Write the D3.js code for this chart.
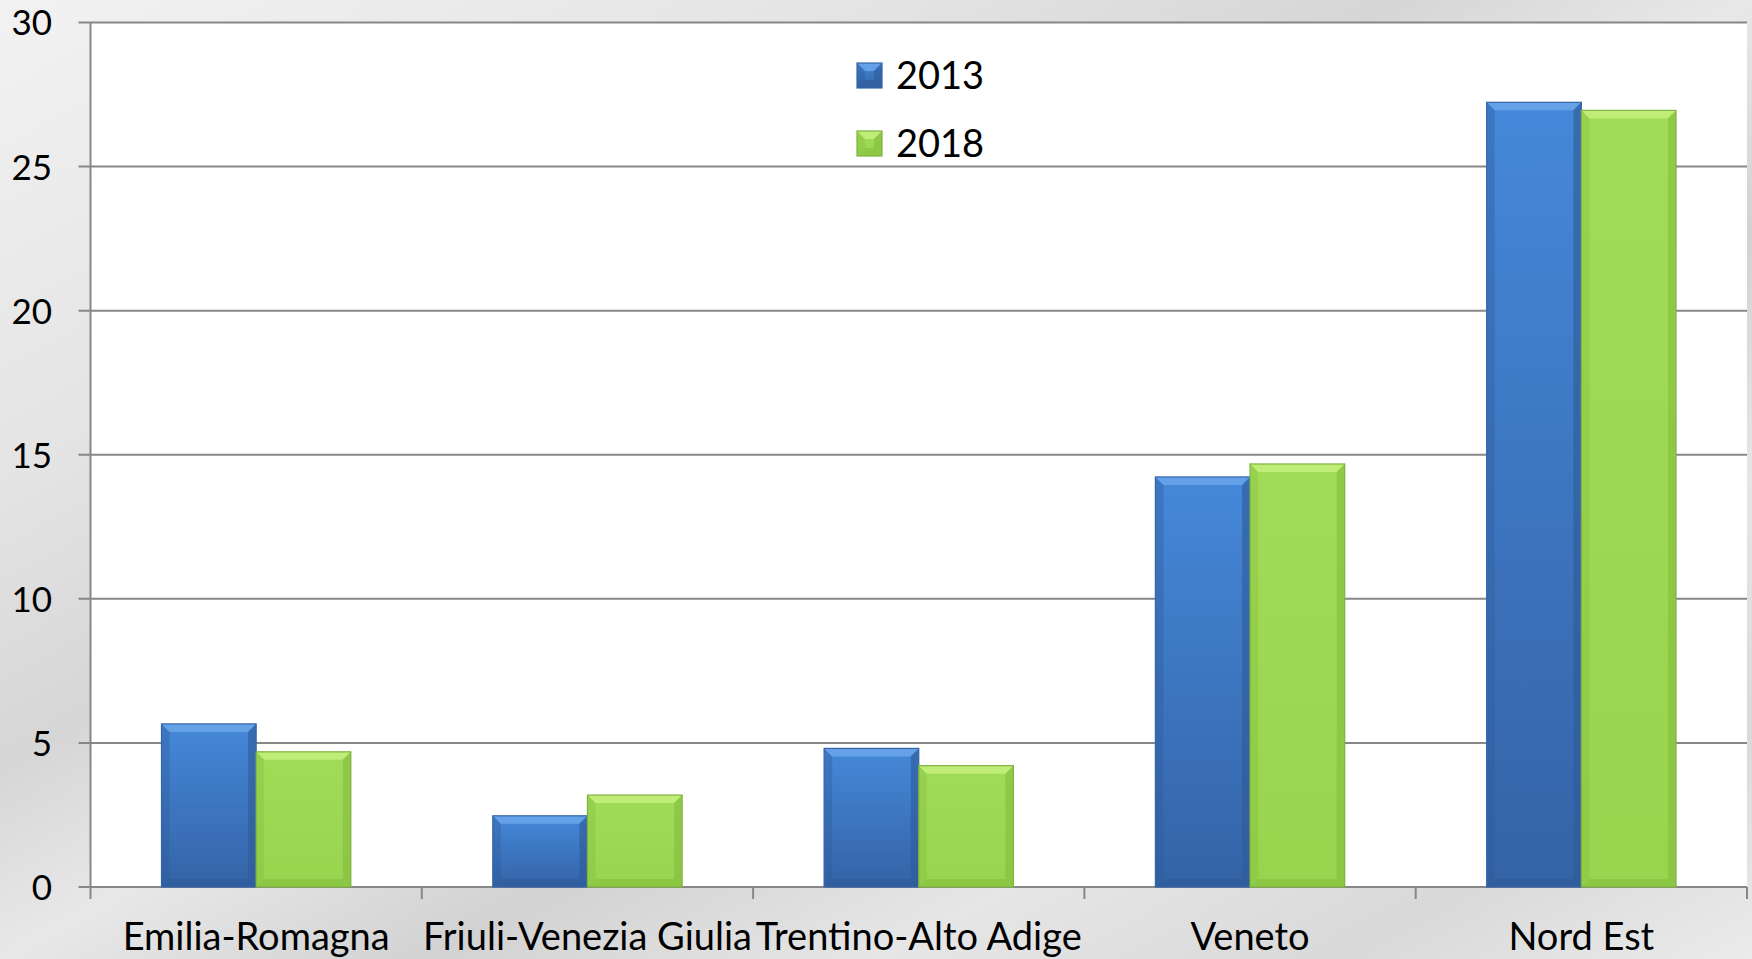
<!DOCTYPE html>
<html>
<head>
  <meta charset="utf-8">
  <title>Nord Est Bar Chart</title>
  <style>
  body { margin: 0; background: #e4e4e4; }
  text { font-family: Lato, "Open Sans", sans-serif; fill: #000; }
  .axis-label { font-size: 38px; }
  .y-label { font-size: 35px; }
  .legend-font { font-size: 38px; }
  </style>
</head>
<body>
  <div id="chart"></div>
  <script src="https://cdn.jsdelivr.net/npm/d3@7/dist/d3.min.js"></script>
  <script>
  //data
  var regions = ["Emilia-Romagna", "Friuli-Venezia Giulia", "Trentino-Alto Adige", "Veneto", "Nord Est"];
  var years = ["2013", "2018"];
  var values2013 = [5.66, 2.47, 4.81, 14.23, 27.23];
  var values2018 = [4.69, 3.19, 4.21, 14.68, 26.95];
  var yTicks = [0, 5, 10, 15, 20, 25, 30];

  var width = 1752;
  var height = 959;
  var plot = {left: 90.5, right: 1747, top: 22.5, bottom: 887};

  var svg = d3.select("#chart")
  .append("svg")
  .attr("width", width)
  .attr("height", height);

  var defs = svg.append("defs");

  //greyish marble-ish backdrop
  var bg = defs.append("linearGradient")
  .attr("id", "bg")
  .attr("x1", "0").attr("y1", "0").attr("x2", "1").attr("y2", "1");
  [[0, "#f2f2f2"], [0.25, "#e4e4e4"], [0.4, "#d6d6d6"], [0.5, "#e8e8e8"],
   [0.62, "#d2d2d2"], [0.75, "#e6e6e6"], [0.88, "#d9d9d9"], [1, "#ebebeb"]]
  .forEach(function(s) {
    bg.append("stop").attr("offset", s[0]).attr("stop-color", s[1]);
  });

  //bar colours, top to bottom
  var colors = {
    "2013": {top: "#4588d9", bottom: "#3463a6", light: "#6aa6ea", dark: "#2e5a98", line: "#3565a8"},
    "2018": {top: "#a0dc58", bottom: "#98d44e", light: "#c4f07e", dark: "#84bd3e", line: "#7fb23f"}
  };
  years.forEach(function(k) {
    var g = defs.append("linearGradient")
    .attr("id", "grad" + k)
    .attr("x1", "0").attr("y1", "0").attr("x2", "0").attr("y2", "1");
    g.append("stop").attr("offset", 0).attr("stop-color", colors[k].top);
    g.append("stop").attr("offset", 1).attr("stop-color", colors[k].bottom);
  });

  svg.append("rect")
  .attr("width", width)
  .attr("height", height)
  .attr("fill", "url(#bg)");

  //plot area
  svg.append("rect")
  .attr("x", plot.left)
  .attr("y", plot.top)
  .attr("width", plot.right - plot.left)
  .attr("height", plot.bottom - plot.top)
  .attr("fill", "#fff");

  //scales
  var x = d3.scaleBand()
  .domain(regions)
  .range([plot.left, plot.right]);

  var y = d3.scaleLinear()
  .domain([0, 30])
  .range([plot.bottom, plot.top]);

  //each bar is 1/3.5 of the band (gap width 150%)
  var barW = x.bandwidth() / 3.5;
  var z = d3.scaleBand()
  .domain(years)
  .range([0.75 * barW, 2.75 * barW]);

  //gridlines
  svg.append("g")
  .selectAll("line")
  .data(yTicks)
  .enter()
  .append("line")
  .attr("x1", plot.left - 12)
  .attr("x2", plot.right)
  .attr("y1", function(d) { return y(d); })
  .attr("y2", function(d) { return y(d); })
  .attr("stroke", "#878787")
  .attr("stroke-width", 2);

  //y labels
  svg.append("g")
  .selectAll("text")
  .data(yTicks)
  .enter()
  .append("text")
  .attr("class", "y-label")
  .attr("x", 52)
  .attr("y", function(d) { return y(d); })
  .attr("dy", "0.37em")
  .attr("text-anchor", "end")
  .text(function(d) { return d; });

  //y axis line
  svg.append("line")
  .attr("x1", plot.left).attr("x2", plot.left)
  .attr("y1", plot.top).attr("y2", plot.bottom + 12)
  .attr("stroke", "#878787")
  .attr("stroke-width", 2);

  //x ticks between categories
  var xTicks = regions.map(function(d) { return x(d); }).concat([plot.right]);
  svg.append("g")
  .selectAll("line")
  .data(xTicks.slice(1))
  .enter()
  .append("line")
  .attr("x1", function(d) { return d; })
  .attr("x2", function(d) { return d; })
  .attr("y1", plot.bottom)
  .attr("y2", plot.bottom + 12)
  .attr("stroke", "#878787")
  .attr("stroke-width", 2);

  //x labels
  svg.append("g")
  .selectAll("text")
  .data(regions)
  .enter()
  .append("text")
  .attr("class", "axis-label")
  .attr("x", function(d) { return x(d) + x.bandwidth() / 2; })
  .attr("y", 950)
  .attr("text-anchor", "middle")
  .text(function(d) { return d; });

  //flatten to bar records
  var bars = [];
  regions.forEach(function(r, i) {
    bars.push({region: r, key: "2013", value: values2013[i]});
    bars.push({region: r, key: "2018", value: values2018[i]});
  });

  //draw a bevelled bar
  function bevel(g, x0, y0, w, h, c, fillId) {
    var b = Math.min(8, h / 2);
    var x1 = x0 + w, y1 = y0 + h;
    g.append("rect")
    .attr("x", x0).attr("y", y0).attr("width", w).attr("height", h)
    .attr("fill", "url(#" + fillId + ")");
    //top facet
    g.append("polygon")
    .attr("points", [[x0, y0], [x1, y0], [x1 - b, y0 + b], [x0 + b, y0 + b]].join(" "))
    .attr("fill", c.light).attr("opacity", 0.85);
    //left facet
    g.append("polygon")
    .attr("points", [[x0, y0], [x0 + b, y0 + b], [x0 + b, y1 - b], [x0, y1]].join(" "))
    .attr("fill", c.dark).attr("opacity", 0.35);
    //right facet
    g.append("polygon")
    .attr("points", [[x1, y0], [x1 - b, y0 + b], [x1 - b, y1 - b], [x1, y1]].join(" "))
    .attr("fill", c.dark).attr("opacity", 0.6);
    //bottom facet
    g.append("polygon")
    .attr("points", [[x0, y1], [x0 + b, y1 - b], [x1 - b, y1 - b], [x1, y1]].join(" "))
    .attr("fill", c.dark).attr("opacity", 0.55);
    g.append("rect")
    .attr("x", x0).attr("y", y0).attr("width", w).attr("height", h)
    .attr("fill", "none")
    .attr("stroke", c.line).attr("stroke-width", 1.2);
  }

  svg.append("g")
  .selectAll("g")
  .data(bars)
  .enter()
  .append("g")
  .each(function(d) {
    bevel(d3.select(this), x(d.region) + z(d.key), y(d.value),
      z.bandwidth(), y(0) - y(d.value), colors[d.key], "grad" + d.key);
  });

  //legend
  var legend = svg.append("g")
  .attr("class", "legend-font")
  .selectAll("g")
  .data(years)
  .enter()
  .append("g")
  .attr("transform", function(d, i) {
    return "translate(857," + (63 + i * 68) + ")";
  });

  legend.each(function(d) {
    bevel(d3.select(this), 0, 0, 25, 25, colors[d], "grad" + d);
  });

  legend.append("text")
  .attr("x", 39)
  .attr("y", 12.5)
  .attr("dy", "0.36em")
  .text(function(d) { return d; });
  </script>
</body>
</html>
